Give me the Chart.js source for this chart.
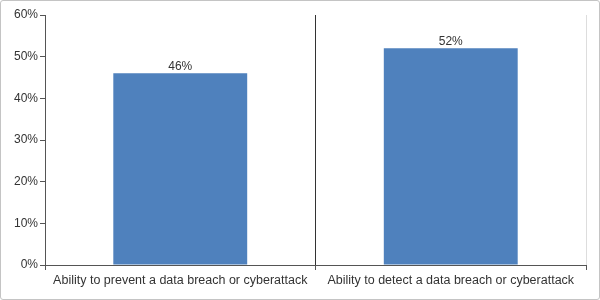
<!DOCTYPE html>
<html lang="en">
<head>
    <meta charset="UTF-8">
    <title>Chart</title>
    <script src="https://cdn.jsdelivr.net/npm/chart.js"></script>
    <style>
        body { margin: 0; background: #fff; }
        .frame {
            width: 600px; height: 300px; box-sizing: border-box;
            border: 1px solid #c4c4c4; border-radius: 3px; position: relative;
        }
    </style>
</head>
<body>
    <div class="frame">
        <canvas id="chart"></canvas>
    </div>

    <script>
        const categories = [
            'Ability to prevent a data breach or cyberattack',
            'Ability to detect a data breach or cyberattack'
        ];
        const values = [46, 52];
        const yTicks = [0, 10, 20, 30, 40, 50, 60];

        // draws "46%" etc. above each bar
        const barLabels = {
            id: 'barLabels',
            afterDatasetsDraw(chart) {
                const ctx = chart.ctx;
                const meta = chart.getDatasetMeta(0);
                ctx.save();
                ctx.font = '12px "Liberation Sans", Arial, sans-serif';
                ctx.fillStyle = '#333';
                ctx.textAlign = 'center';
                ctx.textBaseline = 'bottom';
                meta.data.forEach((bar, i) => {
                    ctx.fillText(values[i] + '%', bar.x, bar.y - 1);
                });
                ctx.restore();
            }
        };

        new Chart(document.getElementById('chart'), {
            type: 'bar',
            data: {
                labels: categories,
                datasets: [{
                    data: values,
                    backgroundColor: '#4f81bd',
                    borderColor: '#dfe6ef',
                    borderWidth: { top: 0, left: 0, right: 0, bottom: 1 },
                    categoryPercentage: 1,
                    barPercentage: 0.495
                }]
            },
            options: {
                responsive: true,
                maintainAspectRatio: false,
                animation: false,
                layout: { padding: { top: 14, right: 13, bottom: 0, left: 0 } },
                plugins: {
                    legend: { display: false },
                    tooltip: { enabled: false }
                },
                scales: {
                    x: {
                        grid: {
                            offset: true,
                            color: c => c.index === 1 ? '#333' : (c.index === 0 ? '#555' : '#ddd'),
                            tickColor: '#555',
                            tickLength: 5
                        },
                        border: { color: '#555' },
                        ticks: {
                            color: '#333',
                            padding: 3,
                            font: { family: '"Liberation Sans", Arial, sans-serif', size: 12.5 }
                        },
                        afterFit: s => { s.height = 34; }
                    },
                    y: {
                        min: 0,
                        max: 60,
                        afterBuildTicks: s => { s.ticks = yTicks.map(v => ({ value: v })); },
                        grid: {
                            drawOnChartArea: false,
                            tickColor: '#555',
                            tickLength: 5
                        },
                        border: { color: '#555' },
                        ticks: {
                            color: '#333',
                            padding: 2,
                            font: { family: '"Liberation Sans", Arial, sans-serif', size: 12 },
                            callback: v => v + '%'
                        },
                        afterFit: s => { s.width = 44; }
                    }
                }
            },
            plugins: [barLabels]
        });
    </script>
</body>
</html>
